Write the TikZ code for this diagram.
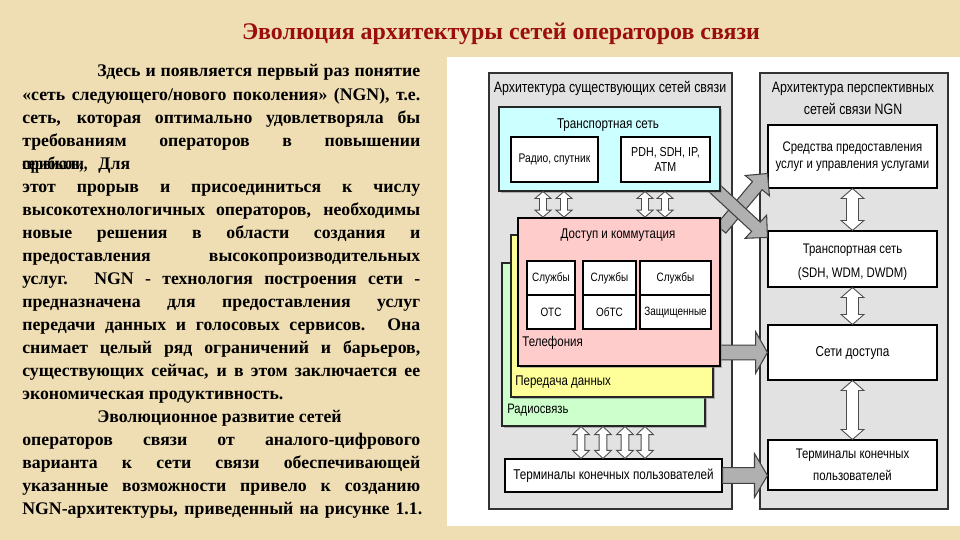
\documentclass[tikz,border=0pt]{standalone}
\usepackage{fontspec}
\setmainfont{Liberation Serif}
\newfontfamily\nar[FakeStretch=0.82]{Liberation Sans}
\usetikzlibrary{calc,fit,shadows}
\definecolor{bg}{HTML}{EFDDB3}
\definecolor{ttl}{HTML}{9A0E0E}
\definecolor{pnl}{HTML}{E2E2E2}
\definecolor{cyanf}{HTML}{CCFFFF}
\definecolor{pinkf}{HTML}{FFCCCC}
\definecolor{yelf}{HTML}{FFFF99}
\definecolor{grnf}{HTML}{CCFFCC}
\definecolor{arrg}{HTML}{B0B0B0}
\tikzset{
  para/.style={anchor=base west,inner sep=0,font=\fontsize{10.1pt}{12pt}\selectfont\bfseries},
  panel/.style={draw=black!80,fill=pnl,line width=0.6pt,inner sep=0},
  wbox/.style={draw=black,fill=white,line width=0.6pt,inner sep=0,align=center},
  layer/.style={draw=black!85,line width=0.6pt,inner sep=0,drop shadow={shadow xshift=1.2pt,shadow yshift=-1.2pt,fill=black!45,opacity=0.6}},
  dbl/.style={draw=black!70,fill=white,line width=0.5pt},
  bigarr/.style={draw=black!75,fill=arrg,line width=0.6pt},
  dtxt/.style={inner sep=0,font=\nar\fontsize{7.9pt}{9.4pt}\selectfont,align=center},
}
% block arrow: start, end, shaft half width, head half width, head length
\newcommand\blockarrow[5]{%
  \coordinate (bA) at #1; \coordinate (bB) at #2;
  \coordinate (bH) at ($(bB)!#5!(bA)$);
  \draw[bigarr] ($(bA)!#3!90:(bB)$) -- ($(bH)!#3!90:(bB)$) -- ($(bH)!#4!90:(bB)$) -- (bB)
    -- ($(bH)!#4!-90:(bB)$) -- ($(bH)!#3!-90:(bB)$) -- ($(bA)!#3!-90:(bB)$) -- cycle;}
% double hollow arrow: start, end, shaft half, head half, head length
\newcommand\dblarrow[5]{%
  \coordinate (dA) at #1; \coordinate (dB) at #2;
  \coordinate (dHa) at ($(dA)!#5!(dB)$); \coordinate (dHb) at ($(dB)!#5!(dA)$);
  \draw[dbl] (dA) -- ($(dHa)!#4!90:(dB)$) -- ($(dHa)!#3!90:(dB)$) -- ($(dHb)!#3!-90:(dA)$)
    -- ($(dHb)!#4!-90:(dA)$) -- (dB) -- ($(dHb)!#4!90:(dA)$) -- ($(dHb)!#3!90:(dA)$)
    -- ($(dHa)!#3!-90:(dB)$) -- ($(dHa)!#4!-90:(dB)$) -- cycle;}
\newsavebox\lbox
\newcommand\fitline[2]{\sbox\lbox{#2}\ifdim\wd\lbox>#1\relax\resizebox{#1}{\height}{\usebox\lbox}\else\makebox[#1][s]{#2}\fi}
\newcommand\jline[3]{\node[para] (#1) at (22,#2) {\fitline{7.96cm}{#3}};}
\begin{document}
\begin{tikzpicture}[x=0.02cm,y=-0.02cm]
\useasboundingbox (0,0) rectangle (960,540);
\fill[bg] (0,0) rectangle (960,540);
% title
\node[font=\fontsize{13.6pt}{16pt}\selectfont\bfseries,text=ttl,inner sep=0] (title) at (501,34) {Эволюция архитектуры сетей операторов связи};
% left text
\node[para] (t1) at (97,77) {\fitline{6.46cm}{Здесь и появляется первый раз понятие}};
\jline{t2}{100.05}{«сеть следующего/нового поколения» (NGN), т.е.}
\jline{t3}{123.1}{сеть, которая оптимально удовлетворяла бы}
\jline{t4}{146.15}{требованиям операторов в повышении}
\node[para] (t5a) at (22,169.2) {\rlap{\scalebox{0.84}[1]{прибыли,}}\scalebox{0.8}[1]{сервисов,}};
\node[para] (t5b) at (98,169.2) {Для};
\jline{t6}{192.25}{этот прорыв и присоединиться к числу}
\jline{t7}{215.3}{высокотехнологичных операторов, необходимы}
\jline{t8}{238.35}{новые решения в области создания и}
\jline{t9}{261.4}{предоставления высокопроизводительных}
\jline{t10}{284.45}{услуг. NGN - технология построения сети -}
\jline{t11}{307.5}{предназначена для предоставления услуг}
\jline{t12}{330.55}{передачи данных и голосовых сервисов. Она}
\jline{t13}{353.6}{снимает целый ряд ограничений и барьеров,}
\jline{t14}{376.65}{существующих сейчас, и в этом заключается ее}
\node[para] (t15) at (22,399.7) {экономическая продуктивность.};
\node[para] (t16) at (97,422.75) {Эволюционное развитие сетей};
\jline{t17}{445.8}{операторов связи от аналого-цифрового}
\jline{t18}{468.85}{варианта к сети связи обеспечивающей}
\jline{t19}{491.9}{указанные возможности привело к созданию}
\node[para] (t20) at (22,514.95) {\fitline{8.0cm}{NGN-архитектуры, приведенный на рисунке 1.1.}};
% white sheet and panels
\node[fill=white,inner sep=0,fit={(447,57) (960,526)}] (sheet) {};
\node[panel,fit={(489,73) (732,509)}] (lp) {};
\node[panel,fit={(760,73) (948,509)}] (rp) {};
\node[dtxt,font=\nar\fontsize{8.6pt}{10pt}\selectfont] (lpt) at (610,88) {Архитектура существующих сетей связи};
\node[dtxt,font=\nar\fontsize{8.6pt}{12.8pt}\selectfont] (rpt) at (853,98.5) {Архитектура перспективных\\сетей связи NGN};
% right column boxes
\node[wbox,fit={(768,125) (937,188)}] (srv) {};
\node[dtxt] at (srv) {Средства предоставления\\услуг и управления услугами};
\node[wbox,fit={(768,231) (937,287)}] (tr) {};
\node[dtxt,font=\nar\fontsize{7.9pt}{13.5pt}\selectfont] at ([yshift=-2]tr.center) {Транспортная сеть\\(SDH, WDM, DWDM)};
\node[wbox,fit={(768,325) (937,380)}] (acc) {};
\node[dtxt,font=\nar\fontsize{8.2pt}{10pt}\selectfont] at (acc) {Сети доступа};
\node[wbox,fit={(768,440) (937,490)}] (termR) {};
\node[dtxt,font=\nar\fontsize{7.9pt}{12.5pt}\selectfont] at (termR) {Терминалы конечных\\пользователей};
% crossing arrows and horizontal arrow (tails hidden under left boxes)
\blockarrow{(721,229)}{($(srv.south west)+(0,-15)$)}{3.6pt}{9pt}{9pt}
\blockarrow{(712,186)}{($(tr.north west)+(0,7)$)}{3.6pt}{9pt}{9pt}
\blockarrow{(700,0 |- acc.west)}{(acc.west)}{4.25pt}{11.9pt}{6.8pt}
% left column
\node[layer,fill=cyanf,fit={(499,107) (720,191)}] (cyan) {};
\node[dtxt,font=\nar\fontsize{8.1pt}{9pt}\selectfont] at (608,125) {Транспортная сеть};
\node[wbox,fit={(511,137) (598,182)}] (radio) {};
\node[dtxt,font=\nar\fontsize{7.1pt}{8pt}\selectfont] at (radio) {Радио, спутник};
\node[wbox,fit={(621,137) (710,182)}] (pdh) {};
\node[dtxt,font=\nar\fontsize{7.4pt}{8.6pt}\selectfont] at (pdh) {PDH, SDH, IP,\\ATM};
\node[layer,fill=grnf,fit={(502,263) (705,426)}] (green) {};
\node[layer,fill=yelf,fit={(511,235) (713,397)}] (yellow) {};
\node[layer,fill=pinkf,draw=black,line width=1pt,fit={(518,218) (720,366)}] (pink) {};
\node[dtxt,font=\nar\fontsize{8pt}{9pt}\selectfont] at (618,235) {Доступ и коммутация};
\node[wbox,fit={(527,261) (575,295)}] (s1) {};
\node[wbox,fit={(527,295) (575,329)}] (o1) {};
\node[wbox,fit={(583,261) (636,295)}] (s2) {};
\node[wbox,fit={(583,295) (636,329)}] (o2) {};
\node[wbox,fit={(640,261) (711,295)}] (s3) {};
\node[wbox,fit={(640,295) (711,329)}] (o3) {};
\foreach \n/\t in {s1/Службы,s2/Службы,s3/Службы,o1/ОТС,o2/ОбТС,o3/Защищенные}
  \node[dtxt,font=\nar\fontsize{6.9pt}{8pt}\selectfont] at (\n) {\t};
\node[dtxt,anchor=west,font=\nar\fontsize{8pt}{10pt}\selectfont] at (522,343) {Телефония};
\node[dtxt,anchor=west,font=\nar\fontsize{8pt}{10pt}\selectfont] at (515,382) {Передача данных};
\node[dtxt,anchor=west,font=\nar\fontsize{7.8pt}{9pt}\selectfont] at (507,410) {Радиосвязь};
\node[wbox,fit={(505,459) (722,492)}] (termL) {};
\node[dtxt,font=\nar\fontsize{8.1pt}{9.4pt}\selectfont] at (termL) {Терминалы конечных пользователей};
% bottom horizontal arrow
\blockarrow{(termL.east)}{(termR.west |- termL.east)}{4.5pt}{12.5pt}{7.4pt}
% double arrows
\foreach \xx in {543,564,645,665}
  {\dblarrow{(\xx,0 |- cyan.south)}{(\xx,0 |- pink.north)}{2pt}{4.6pt}{4pt}}
\foreach \xx in {581,603,625,645}
  {\dblarrow{(\xx,0 |- green.south)}{(\xx,0 |- termL.north)}{2.2pt}{4.8pt}{4.6pt}}
\dblarrow{(srv.south)}{(tr.north)}{3.4pt}{6.5pt}{5.7pt}
\dblarrow{(tr.south)}{(acc.north)}{3.4pt}{6.5pt}{5.7pt}
\dblarrow{(acc.south)}{(termR.north)}{3.4pt}{6.5pt}{5.7pt}
\end{tikzpicture}
\end{document}
